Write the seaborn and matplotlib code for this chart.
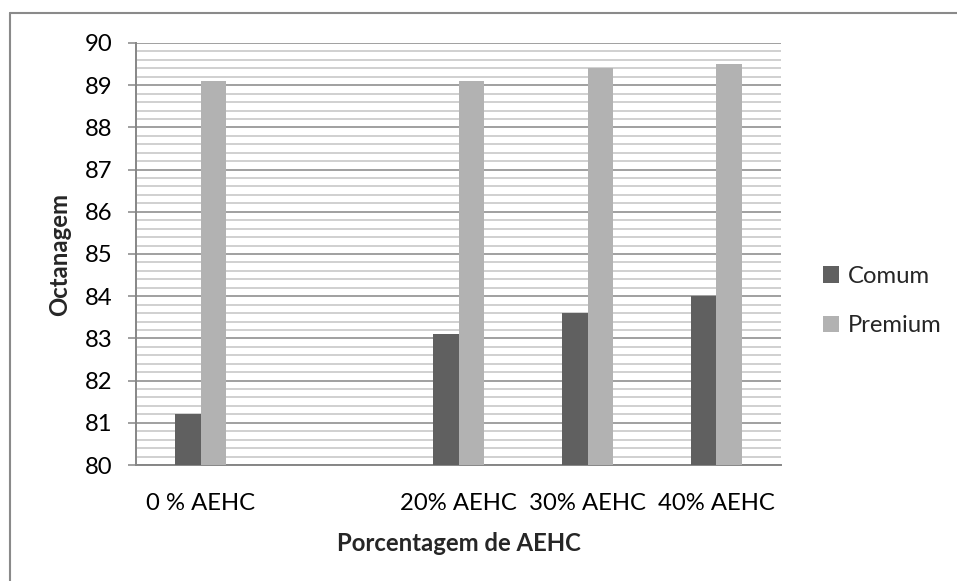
import matplotlib
matplotlib.use("Agg")
import matplotlib.pyplot as plt
from matplotlib.lines import Line2D
from matplotlib.ticker import MultipleLocator
import numpy as np
import pandas as pd
import seaborn as sns

# Octane rating by ethanol (AEHC) content
categories = ["0 % AEHC", "", "20% AEHC", "30% AEHC", "40% AEHC"]
comum = [81.2, np.nan, 83.1, 83.6, 84.0]
premium = [89.1, np.nan, 89.1, 89.4, 89.5]
series_names = ["Comum", "Premium"]
colors = ["#606060", "#b2b2b2"]

df = pd.DataFrame({
    "categoria": categories * 2,
    "serie": [series_names[0]] * len(categories) + [series_names[1]] * len(categories),
    "octanagem": comum + premium,
})

sns.set_theme(style="white")
plt.rcParams["font.family"] = ["Lato", "DejaVu Sans"]

FS = 17.2
W, H = 957, 581
fig = plt.figure(figsize=(W / 100, H / 100), dpi=100)
ax = fig.add_axes([136 / W, (H - 465) / H, (781 - 136) / W, (465 - 43) / H])

sns.barplot(data=df, x="categoria", y="octanagem", hue="serie", order=categories,
            hue_order=series_names, palette=colors, width=0.4, saturation=1,
            errorbar=None, ax=ax, zorder=3, linewidth=0)

ax.set_ylim(80, 90)
ax.set_xlim(-0.5, len(categories) - 0.5)
ax.yaxis.set_major_locator(MultipleLocator(1))
ax.yaxis.set_minor_locator(MultipleLocator(0.2))
ax.grid(False)
ax.grid(which="minor", axis="y", color="#c4c4c4", linewidth=1.1, zorder=0)
ax.grid(which="major", axis="y", color="#868686", linewidth=1.1, zorder=1)
ax.set_axisbelow(True)

for side in ["top", "right"]:
    ax.spines[side].set_visible(False)
for side in ["left", "bottom"]:
    ax.spines[side].set_color("#868686")
    ax.spines[side].set_linewidth(1.4)

ax.tick_params(axis="y", which="major", direction="out", length=6, width=1.1,
               color="#868686", pad=11, labelsize=FS, labelcolor="black", left=True)
ax.tick_params(axis="y", which="minor", length=0)
ax.tick_params(axis="x", length=0, pad=20, labelsize=FS, labelcolor="black")

ax.set_xlabel("Porcentagem de AEHC", fontsize=FS, fontweight="bold", labelpad=13)
ax.set_ylabel("Octanagem", fontsize=FS, fontweight="bold", labelpad=10)

handles, labels = ax.get_legend_handles_labels()
ax.legend(handles, labels, loc="center left", bbox_to_anchor=(801 / W, (H - 301) / H),
          bbox_transform=fig.transFigure, frameon=False, fontsize=FS,
          handlelength=0.7, handleheight=0.7, handletextpad=0.35, labelspacing=1.2)

# chart area border
fig.add_artist(Line2D([10 / W, 1], [(H - 13) / H, (H - 13) / H], color="#8a8a8a", lw=1.5))
fig.add_artist(Line2D([10 / W, 10 / W], [0, (H - 13) / H], color="#8a8a8a", lw=1.5))

fig.savefig("out.png", dpi=100)
